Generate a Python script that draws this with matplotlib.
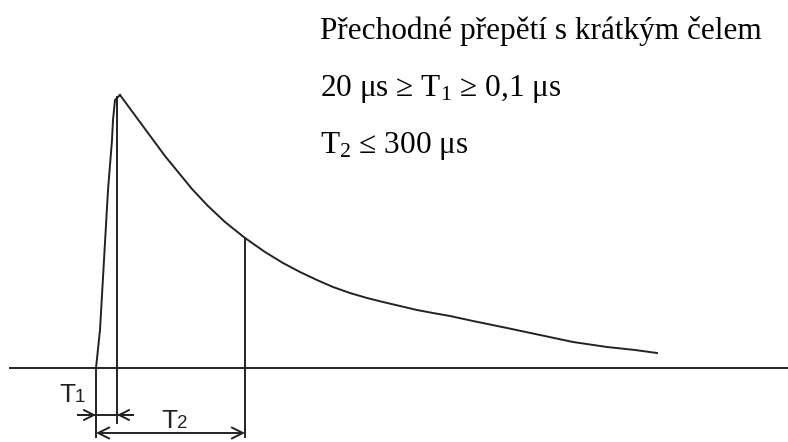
import matplotlib.pyplot as plt

plt.rcParams['mathtext.fontset'] = 'custom'
plt.rcParams['mathtext.rm'] = 'Liberation Serif'
plt.rcParams['mathtext.it'] = 'Liberation Serif:italic'

# Tvar impulzu (pixelové souřadnice, y roste dolů)
rise_x = [96, 100, 108, 110, 112, 113, 115, 120]
rise_y = [368, 330, 190, 165, 140, 120, 100, 95]
decay_x = [120, 134, 148, 165, 183, 192, 208, 225, 245, 265, 283, 300, 317, 333, 350,
           367, 383, 400, 417, 433, 450, 473, 507, 540, 573, 607, 635, 657]
decay_y = [95, 114, 133, 156, 178, 189, 206, 222, 238, 252, 263, 272, 280, 287, 293,
           298, 302, 306, 310, 313, 316, 321, 328, 335, 342, 347, 350, 353]

# Časové značky: začátek, vrchol a konec T2
t_start, t_peak, t_end = 96, 117, 245
baseline = 368

title_lines = ['Přechodné přepětí s krátkým čelem',
               r'20 μs ≥ T$_{1}$ ≥ 0,1 μs',
               r'T$_{2}$ ≤ 300 μs']

fig = plt.figure(figsize=(7.88, 4.42), dpi=100)
ax = fig.add_axes([0, 0, 1, 1])
ax.set_xlim(0, 788)
ax.set_ylim(442, 0)
ax.axis('off')

lc = '#222222'
lw = 1.4

# Osa a průběh
ax.plot([10, 788], [baseline, baseline], color=lc, lw=lw)
ax.plot(rise_x, rise_y, color=lc, lw=lw)
ax.plot(decay_x, decay_y, color=lc, lw=lw)

# Svislé pomocné čáry
ax.plot([t_start, t_start], [baseline, 437], color=lc, lw=lw)
ax.plot([t_peak, t_peak], [97, 423], color=lc, lw=lw)
ax.plot([t_end, t_end], [238, 437], color=lc, lw=lw)

# Kóta T1 (šipky zvenku)
ax.plot([78, 133], [415, 415], color=lc, lw=lw)
ax.annotate('', xy=(t_start, 415), xytext=(78, 415),
            arrowprops=dict(arrowstyle='->', color=lc, lw=lw, mutation_scale=18,
                            shrinkA=0, shrinkB=0))
ax.annotate('', xy=(t_peak, 415), xytext=(133, 415),
            arrowprops=dict(arrowstyle='->', color=lc, lw=lw, mutation_scale=18,
                            shrinkA=0, shrinkB=0))

# Kóta T2
ax.annotate('', xy=(t_start, 433), xytext=(t_end, 433),
            arrowprops=dict(arrowstyle='<->', color=lc, lw=lw, mutation_scale=20,
                            shrinkA=0, shrinkB=0))

# Popisky T1, T2
ax.text(59, 402, 'T', fontsize=19, family='Liberation Sans', color=lc, va='baseline')
ax.text(75, 402, '1', fontsize=13.5, family='Liberation Sans', color=lc, va='baseline')
ax.text(161, 428, 'T', fontsize=19, family='Liberation Sans', color=lc, va='baseline')
ax.text(177, 428, '2', fontsize=13.5, family='Liberation Sans', color=lc, va='baseline')

# Textový popis vpravo nahoře
for i, line in enumerate(title_lines):
    ax.text(320, 39 + i * 57, line, fontsize=22.5, family='Liberation Serif',
            color='black', va='baseline')

fig.savefig('out.png', dpi=100)
